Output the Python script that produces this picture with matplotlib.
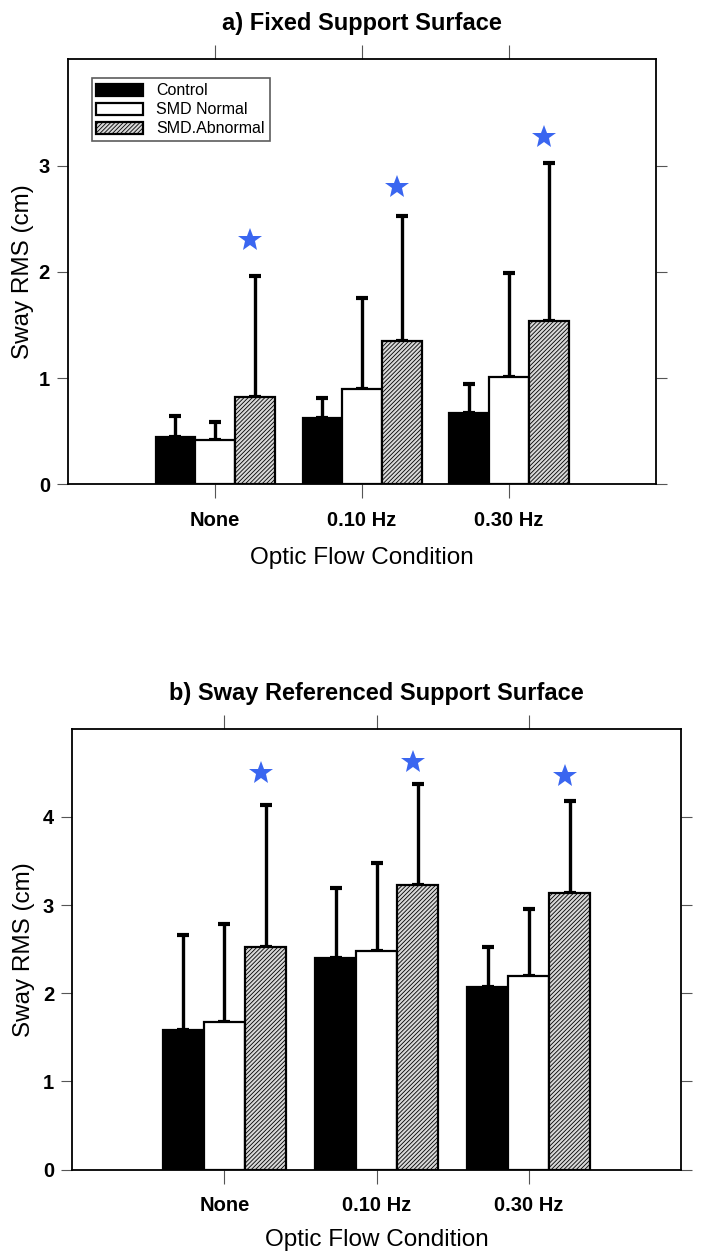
import matplotlib
matplotlib.use("Agg")
import matplotlib.pyplot as plt
import numpy as np

plt.rcParams['font.family'] = ['Liberation Sans', 'DejaVu Sans']
plt.rcParams['hatch.linewidth'] = 0.6
plt.rcParams['hatch.color'] = '#222222'

categories = ["None", "0.10 Hz", "0.30 Hz"]
groups = ["Control", "SMD Normal", "SMD.Abnormal"]

# Panel a: Fixed support surface
a_control = [0.45, 0.62, 0.67]
a_control_sd = [0.195, 0.19, 0.27]
a_normal = [0.42, 0.90, 1.01]
a_normal_sd = [0.17, 0.85, 0.98]
a_abnormal = [0.82, 1.35, 1.54]
a_abnormal_sd = [1.14, 1.18, 1.48]
a_stars = [2.30, 2.80, 3.27]

# Panel b: Sway referenced support surface
b_control = [1.58, 2.40, 2.07]
b_control_sd = [1.08, 0.79, 0.45]
b_normal = [1.675, 2.48, 2.20]
b_normal_sd = [1.105, 1.00, 0.75]
b_abnormal = [2.52, 3.23, 3.14]
b_abnormal_sd = [1.61, 1.14, 1.04]
b_stars = [4.50, 4.62, 4.46]

fig = plt.figure(figsize=(7.08, 12.57), dpi=100)
ax_a = fig.add_axes([0.0961, 0.6147, 0.8305, 0.3381])
ax_b = fig.add_axes([0.1021, 0.0695, 0.8597, 0.3508])

width = 0.27
styles = [dict(facecolor='black', edgecolor='black', hatch=None),
          dict(facecolor='white', edgecolor='black', hatch=None),
          dict(facecolor='#d8d8d8', edgecolor='black', hatch='////////')]


def draw(ax, vals, sds, stars, ylim, yticks, title, xlab_y, ylab_x, legend=False):
    x = np.arange(1, len(categories) + 1)
    handles = []
    for i, (v, s) in enumerate(zip(vals, sds)):
        pos = x + (i - 1) * width
        ax.errorbar(pos, v, yerr=[np.zeros(len(s)), s], fmt='none',
                    ecolor='black', elinewidth=2.4, capsize=4.5, capthick=3, zorder=2)
        b = ax.bar(pos, v, width=width, linewidth=1.6, zorder=3, label=groups[i], **styles[i])
        handles.append(b)
    ax.plot(x + width - 0.03, stars, linestyle='none', marker='*', markersize=18,
            color='#3a66f0', markeredgewidth=0, zorder=4)
    ax.set_xlim(0, 4)
    ax.set_ylim(*ylim)
    ax.set_xticks(x)
    ax.set_xticklabels(categories, fontsize=14.5, fontweight='bold')
    ax.set_yticks(yticks)
    ax.set_yticklabels([str(t) for t in yticks], fontsize=14.5, fontweight='bold')
    ax.tick_params(axis='both', direction='out', top=True, right=True,
                   length=8, width=0.8, color='#555555', pad=5)
    ax.tick_params(axis='x', length=10, pad=9)
    for sp in ax.spines.values():
        sp.set_linewidth(1.3)
    ax.set_xlabel("Optic Flow Condition", fontsize=17.5, va='center')
    ax.xaxis.set_label_coords(0.5, xlab_y)
    ax.set_ylabel("Sway RMS (cm)", fontsize=17.5, va='center')
    ax.yaxis.set_label_coords(ylab_x, 0.5)
    ax.set_title(title, fontsize=17, fontweight='bold', pad=21)
    if legend:
        leg = ax.legend(handles=handles, loc='upper left', bbox_to_anchor=(0.04, 0.955),
                        fontsize=11.5, frameon=True, fancybox=False, edgecolor='#333333',
                        borderpad=0.3, handlelength=2.9, handleheight=0.75,
                        handletextpad=0.85, labelspacing=0.25, borderaxespad=0)
        leg.get_frame().set_linewidth(1.2)


draw(ax_a, [a_control, a_normal, a_abnormal], [a_control_sd, a_normal_sd, a_abnormal_sd],
     a_stars, (0, 4.0), [0, 1, 2, 3], "a) Fixed Support Surface",
     xlab_y=-0.174, ylab_x=-0.077, legend=True)
draw(ax_b, [b_control, b_normal, b_abnormal], [b_control_sd, b_normal_sd, b_abnormal_sd],
     b_stars, (0, 5.0), [0, 1, 2, 3, 4], "b) Sway Referenced Support Surface",
     xlab_y=-0.16, ylab_x=-0.079)

fig.savefig("out.png", dpi=100)
